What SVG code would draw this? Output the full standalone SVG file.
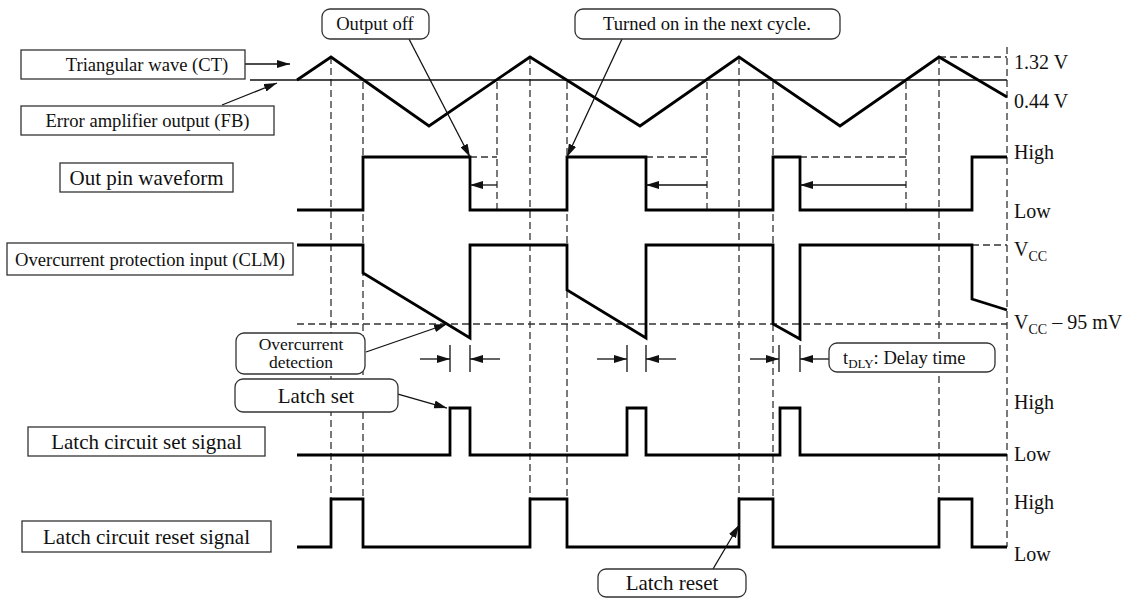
<svg xmlns="http://www.w3.org/2000/svg" width="1144" height="598" viewBox="0 0 1144 598">
<defs>
<marker id="ah" markerUnits="userSpaceOnUse" markerWidth="13" markerHeight="8" refX="13" refY="4" orient="auto">
<path d="M0,0 L13,4 L0,8 z" fill="#111"/>
</marker>
<style>
text{font-family:"Liberation Serif","Times New Roman",serif;fill:#111}
.s{font-size:18.6px}
.d{font-size:17.5px}
.m{font-size:21px}
.r{font-size:20px}
.c{text-anchor:middle}
.box{fill:#fff;stroke:#333;stroke-width:1.3}
.call{fill:#fff;stroke:#333;stroke-width:1.3}
.wave{fill:none;stroke:#000;stroke-width:2.8;stroke-linejoin:miter}
.thin{fill:none;stroke:#111;stroke-width:1.3}
.arr{fill:none;stroke:#111;stroke-width:1.3;marker-end:url(#ah)}
.dash{fill:none;stroke:#333;stroke-width:1.3;stroke-dasharray:7 4}
</style>
</defs>
<rect width="1144" height="598" fill="#fff"/>

<g id="guides">
<path class="dash" d="M331,57V498M363,82V498M497,82V210M530,57V498M567,82V498M707,82V210M739,57V498M773,82V498M906,82V210M939,57V498M1007,47V547"/>
<path class="dash" d="M939,57H1007M470,157H497M646,157H707M800,157H906M972,245H1007M297,324H1007"/>
<path class="thin" d="M250,80H1007"/>
</g>

<g id="waveforms">
<path id="triangle" class="wave" d="M297,80 L331,57 L429,126 L530,57 L640,126 L739,57 L840,126 L939,57 L1007,97"/>
<path id="outpin" class="wave" d="M297,210H363V157H470V210H567V157H646V210H773V157H800V210H972V157H1007"/>
<path id="clm" class="wave" d="M297,245H363V273L470,338V245H567V290L646,338V245H773V324L800,339V245H972V299L1007,310"/>
<path id="latchset" class="wave" d="M297,455H450V408H470V455H627V408H646V455H780V408H800V455H1007"/>
<path id="latchreset" class="wave" d="M297,547H331V499H363V547H530V499H567V547H739V499H773V547H939V499H972V547H1007"/>
</g>

<g id="connectors">
<path class="arr" d="M245,64H290"/>
<path class="arr" d="M222,105L277,83"/>
<path class="arr" d="M497,185H470"/>
<path class="arr" d="M707,185H646"/>
<path class="arr" d="M906,185H800"/>
<path class="arr" d="M409,39L470,157"/>
<path class="arr" d="M622,39L567,157"/>
<path class="arr" d="M366,352L447,324"/>
<path class="arr" d="M398,394L447,408"/>
<path class="arr" d="M713,569L739,525"/>
<path class="thin" d="M450,345V372M470,345V372M627,345V372M646,345V372M779,345V372M800,345V372"/>
<path class="arr" d="M420,359H450"/>
<path class="arr" d="M500,359H470"/>
<path class="arr" d="M597,359H627"/>
<path class="arr" d="M676,359H646"/>
<path class="arr" d="M750,359H779"/>
<path class="arr" d="M829,359H800"/>
</g>

<g id="label-ct"><rect class="box" x="21" y="50" width="224" height="29"/><text class="s c" x="147" y="71">Triangular wave (CT)</text></g>
<g id="label-fb"><rect class="box" x="21" y="106" width="253" height="29"/><text class="s c" x="147.5" y="127">Error amplifier output (FB)</text></g>
<g id="label-out"><rect class="box" x="60" y="163" width="173" height="29"/><text class="m c" x="146.5" y="185">Out pin waveform</text></g>
<g id="label-clm"><rect class="box" x="7" y="243" width="286" height="32"/><text class="s c" x="150" y="265.5">Overcurrent protection input (CLM)</text></g>
<g id="label-set"><rect class="box" x="28" y="427" width="237" height="29"/><text class="m c" x="146.5" y="449">Latch circuit set signal</text></g>
<g id="label-reset"><rect class="box" x="22" y="521" width="249" height="31"/><text class="m c" x="146.5" y="544">Latch circuit reset signal</text></g>

<g id="callout-outoff"><rect class="call" x="322" y="9" width="107" height="30" rx="8"/><text class="s c" x="375" y="30">Output off</text></g>
<g id="callout-turnon"><rect class="call" x="575" y="9" width="265" height="30" rx="8"/><text class="s c" x="707" y="30">Turned on in the next cycle.</text></g>
<g id="callout-ocd"><rect class="call" x="236" y="333" width="129" height="41" rx="8"/><text class="d c" x="301" y="350">Overcurrent</text><text class="d c" x="301" y="368">detection</text></g>
<g id="callout-latchset"><rect class="call" x="235" y="379" width="163" height="33" rx="8"/><text class="m c" x="316" y="403">Latch set</text></g>
<g id="callout-tdly"><rect class="call" x="829" y="343" width="166" height="29" rx="8"/><text class="s" x="843" y="364">t<tspan font-size="13" dy="4">DLY</tspan><tspan dy="-4">: Delay time</tspan></text></g>
<g id="callout-latchreset"><rect class="call" x="598" y="569" width="148" height="28" rx="8"/><text class="m c" x="672" y="590">Latch reset</text></g>

<g id="levels">
<text class="r" x="1014" y="69">1.32 V</text>
<text class="r" x="1014" y="108">0.44 V</text>
<text class="r" x="1014" y="159">High</text>
<text class="r" x="1014" y="218">Low</text>
<text class="r" x="1014" y="256">V<tspan font-size="14" dy="5">CC</tspan></text>
<text class="r" x="1014" y="329">V<tspan font-size="14" dy="5">CC</tspan><tspan dy="-5"> – 95 mV</tspan></text>
<text class="r" x="1014" y="409">High</text>
<text class="r" x="1014" y="461">Low</text>
<text class="r" x="1014" y="509">High</text>
<text class="r" x="1014" y="561">Low</text>
</g>
</svg>
